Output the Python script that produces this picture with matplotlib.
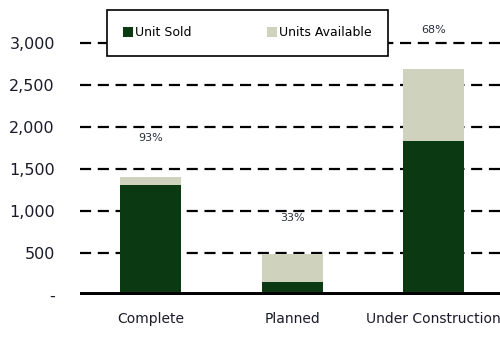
import matplotlib.pyplot as plt
from matplotlib.ticker import FuncFormatter

categories = ['Complete', 'Planned', 'Under Construction']
units_sold = [1310, 150, 1830]
units_available = [90, 340, 860]
pct_labels = ['93%', '33%', '68%']
label_y = [1870, 920, 3150]
y_ticks = [0, 500, 1000, 1500, 2000, 2500, 3000]

dark_green = '#0b3a12'
light_avail = '#cfd3bd'

fig = plt.figure(figsize=(5, 3.54), dpi=100)
ax = fig.add_axes([0.16, 0.1667, 0.84, 0.783])

x = range(len(categories))
ax.bar(x, units_sold, width=0.43, color=dark_green, label='Unit Sold', zorder=3)
ax.bar(x, units_available, width=0.43, bottom=units_sold, color=light_avail,
       label='Units Available', zorder=3)

for i, (txt, yy) in enumerate(zip(pct_labels, label_y)):
    ax.text(i, yy, txt, ha='center', va='center', fontsize=8, color='#2a2f40', zorder=4)

ax.set_xlim(-0.5, 2.47)
ax.set_ylim(0, 3300)
ax.set_yticks(y_ticks)
ax.yaxis.set_major_formatter(FuncFormatter(lambda v, p: '-' if v == 0 else f'{int(v):,}'))
ax.set_xticks(list(x))
ax.set_xticklabels(categories)

for t in y_ticks[1:]:
    ax.axhline(t, color='black', lw=1.6, ls=(0, (5, 3)), zorder=1)
ax.axhline(0, color='black', lw=5, zorder=4, solid_capstyle='round')

for s in ax.spines.values():
    s.set_visible(False)
ax.tick_params(length=0)
ax.tick_params(axis='y', pad=18, labelsize=11.5, labelcolor='#1a1a2a')
ax.tick_params(axis='x', pad=12, labelsize=10, labelcolor='#1a1a2a')

leg = ax.legend(loc='center', bbox_to_anchor=(0.495, 0.907), bbox_transform=fig.transFigure,
                ncol=2, fancybox=False, framealpha=1, edgecolor='black',
                fontsize=9, handlelength=0.8, handleheight=0.8, handletextpad=0.2,
                columnspacing=6.0, borderpad=1.3, borderaxespad=0)
leg.get_frame().set_linewidth(1.2)
leg.set_zorder(10)

fig.savefig('out.png', dpi=100)
